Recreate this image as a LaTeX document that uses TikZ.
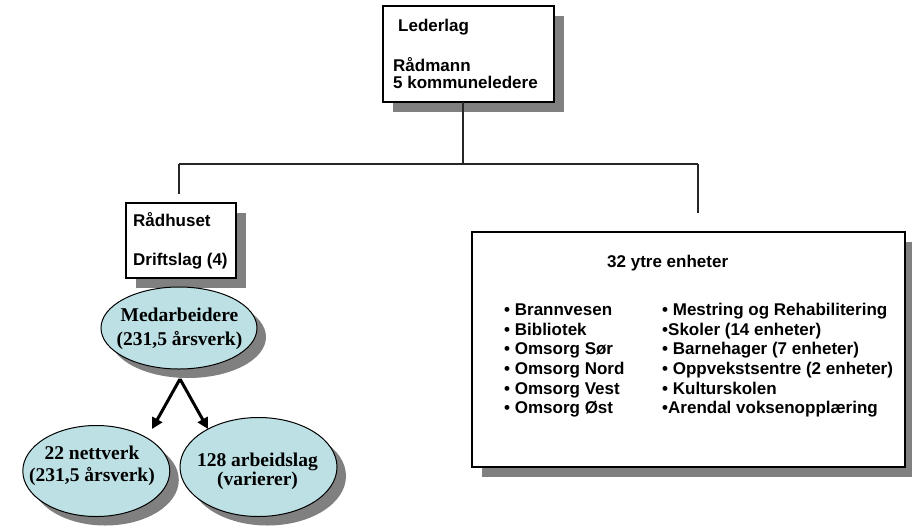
\documentclass[tikz,border=0pt]{standalone}
\usepackage{fontspec}
\setmainfont{Liberation Sans}
\newfontfamily\tnr{Liberation Serif}
\usetikzlibrary{arrows.meta,shapes.geometric,shadows}
\definecolor{ellfill}{RGB}{188,224,228}
\definecolor{shad}{RGB}{128,128,128}
\begin{document}
\begin{tikzpicture}[x=1pt,y=-1pt,
  sans/.style={font=\bfseries\fontsize{17}{19.6}\selectfont, inner sep=0pt, anchor=base west},
  serif/.style={font=\tnr\bfseries\fontsize{19.5}{22}\selectfont, inner sep=0pt, anchor=base},
  boxshadow/.style={drop shadow={shadow xshift=10pt, shadow yshift=-10pt, fill=shad, opacity=1}},
  ellshadow/.style={drop shadow={shadow xshift=9pt, shadow yshift=-9pt, fill=shad, opacity=1}},
  boxframe/.style={rectangle, draw=black, fill=white, line width=1.6pt, inner sep=0pt, boxshadow},
  ell/.style={ellipse, draw=black, fill=ellfill, line width=1pt, inner sep=0pt, ellshadow},
  tree/.style={line width=1.2pt, draw=black!85},
  arr/.style={line width=3pt, -{Triangle[length=11pt,width=11pt]}}
]
\useasboundingbox (0,0) rectangle (912,525);

% boxes
\node[boxframe, minimum width=171pt, minimum height=96pt] (lead) at (468.5,54) {};
\node[boxframe, minimum width=110pt, minimum height=75pt] (radh) at (181,240.5) {};
\node[boxframe, line width=2.7pt, minimum width=433pt, minimum height=235pt] (ytre) at (688.5,349.5) {};

% ellipses
\node[ell, minimum width=156pt, minimum height=82pt] (med) at (179,328) {};
\node[ell, minimum width=147pt, minimum height=91pt] (nett) at (96.3,471) {};
\node[ell, minimum width=157pt, minimum height=99pt] (arb) at (258.5,467) {};

% tree connectors
\coordinate (t0) at (463,102);
\coordinate (t1) at (463,164);
\coordinate (tl) at (179,164);
\coordinate (tr) at (698,164);
\coordinate (tlb) at (179,194);
\coordinate (trb) at (698,213);
\draw[tree] (t0) -- (t1);
\draw[tree] (tl) -- (tr);
\draw[tree] (tl) -- (tlb);
\draw[tree] (tr) -- (trb);

% arrows
\coordinate (apex) at (180,379);
\coordinate (tipL) at (152,429);
\coordinate (tipR) at (208,429);
\draw[arr] (apex) -- (tipL);
\draw[arr] (apex) -- (tipR);

% texts: Lederlag
\node[sans] (l1) at (398,31.5) {Lederlag};
\node[sans] (l2) at (393,71.7) {Rådmann};
\node[sans] (l3) at (393,88.5) {5 kommuneledere};

% Rådhuset
\node[sans] (r1) at (133,226.7) {Rådhuset};
\node[sans] (r2) at (133,265.5) {Driftslag (4)};

% ytre enheter
\node[sans] (y0) at (607,267.7) {32 ytre enheter};
\node[sans] (a1) at (504,315.7) {• Brannvesen};
\node[sans] (a2) at (504,335.3) {• Bibliotek};
\node[sans] (a3) at (504,354.9) {• Omsorg Sør};
\node[sans] (a4) at (504,374.5) {• Omsorg Nord};
\node[sans] (a5) at (504,394.1) {• Omsorg Vest};
\node[sans] (a6) at (504,413.7) {• Omsorg Øst};
\node[sans] (b1) at (662,315.7) {• Mestring og Rehabilitering};
\node[sans] (b2) at (662,335.3) {•Skoler (14 enheter)};
\node[sans] (b3) at (662,354.9) {• Barnehager (7 enheter)};
\node[sans] (b4) at (662,374.5) {• Oppvekstsentre (2 enheter)};
\node[sans] (b5) at (662,394.1) {• Kulturskolen};
\node[sans] (b6) at (662,413.7) {•Arendal voksenopplæring};

% ellipse texts
\node[serif] (m1) at (179.5,321.7) {Medarbeidere};
\node[serif] (m2) at (179.5,345) {(231,5 årsverk)};
\node[serif] (n1) at (92,459.3) {22 nettverk};
\node[serif] (n2) at (92,481) {(231,5 årsverk)};
\node[serif] (w1) at (257.5,466) {128 arbeidslag};
\node[serif] (w2) at (257.5,485) {(varierer)};
\end{tikzpicture}
\end{document}
